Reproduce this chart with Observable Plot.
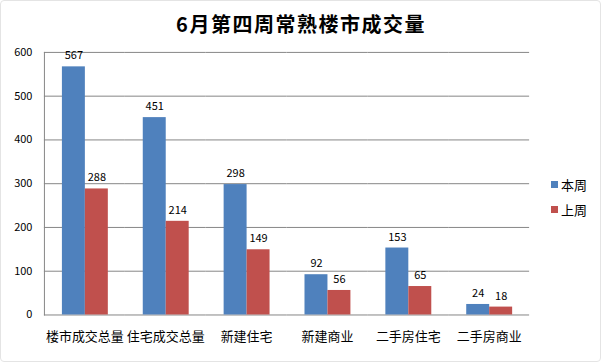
<!DOCTYPE html>
<html>
<head>
<meta charset="utf-8">
<script src="https://cdn.jsdelivr.net/npm/d3@7"></script>
<script src="https://cdn.jsdelivr.net/npm/@observablehq/plot@0.6"></script>
<style>
  html, body { margin: 0; padding: 0; background: #fff; }
  #wrap { position: relative; width: 599px; height: 360px; border: 1px solid #e4e4e4; border-radius: 4px; overflow: hidden; font-family: "Noto Sans CJK SC", sans-serif; }
  #title { position: absolute; left: 0; top: 9px; width: 600px; text-align: center; font-size: 20px; font-weight: bold; letter-spacing: 1.5px; color: #000; line-height: 28px; }
  #chart { position: absolute; left: -1px; top: -1px; }
  #legend { position: absolute; left: 550px; top: 171px; font-size: 13px; color: #000; }
  #legend .item { display: flex; align-items: center; height: 25px; }
  #legend .sw { width: 7px; height: 7px; margin-right: 3px; }
</style>
</head>
<body>
<div id="wrap">
  <div id="title">6月第四周常熟楼市成交量</div>
  <div id="chart"></div>
  <div id="legend"></div>
</div>
<script>
const categories = ["楼市成交总量", "住宅成交总量", "新建住宅", "新建商业", "二手房住宅", "二手房商业"];
const seriesNames = ["本周", "上周"];
const thisWeek = [567, 451, 298, 92, 153, 24];
const lastWeek = [288, 214, 149, 56, 65, 18];
const yTicks = [0, 100, 200, 300, 400, 500, 600];
const colors = ["#4F81BD", "#C0504D"];

const data = [];
categories.forEach((c, i) => {
  data.push({category: c, series: seriesNames[0], value: thisWeek[i]});
  data.push({category: c, series: seriesNames[1], value: lastWeek[i]});
});

const chart = Plot.plot({
  width: 601,
  height: 362,
  marginLeft: 44,
  marginRight: 71,
  marginTop: 52,
  marginBottom: 47,
  style: {fontFamily: "'Noto Sans CJK SC', sans-serif", background: "transparent"},
  fx: {domain: categories, padding: 0, label: null},
  x: {domain: seriesNames, paddingInner: 0, paddingOuter: 0.76, axis: null},
  y: {domain: [0, 600], ticks: yTicks, label: null},
  color: {domain: seriesNames, range: colors},
  marks: [
    Plot.ruleY(yTicks, {stroke: "#868686", strokeWidth: 1}),
    Plot.barY(data, {fx: "category", x: "series", y: "value", fill: "series"}),
    Plot.text(data, {fx: "category", x: "series", y: "value", text: d => String(d.value), dy: -11, fontSize: 11, fill: "#000"}),
    Plot.frame({anchor: "left", facetAnchor: "left", stroke: "#868686"}),
    Plot.axisY({ticks: yTicks, tickSize: 0, tickPadding: 12, fontSize: 11, label: null, fill: "#000"}),
    Plot.axisFx({anchor: "bottom", tickSize: 0, tickPadding: 17, fontSize: 13, label: null, fill: "#000"})
  ]
});
document.getElementById("chart").appendChild(chart);

const legend = document.getElementById("legend");
seriesNames.forEach((s, i) => {
  const item = document.createElement("div");
  item.className = "item";
  const sw = document.createElement("span");
  sw.className = "sw";
  sw.style.background = colors[i];
  const t = document.createElement("span");
  t.textContent = s;
  item.appendChild(sw);
  item.appendChild(t);
  legend.appendChild(item);
});
</script>
</body>
</html>
